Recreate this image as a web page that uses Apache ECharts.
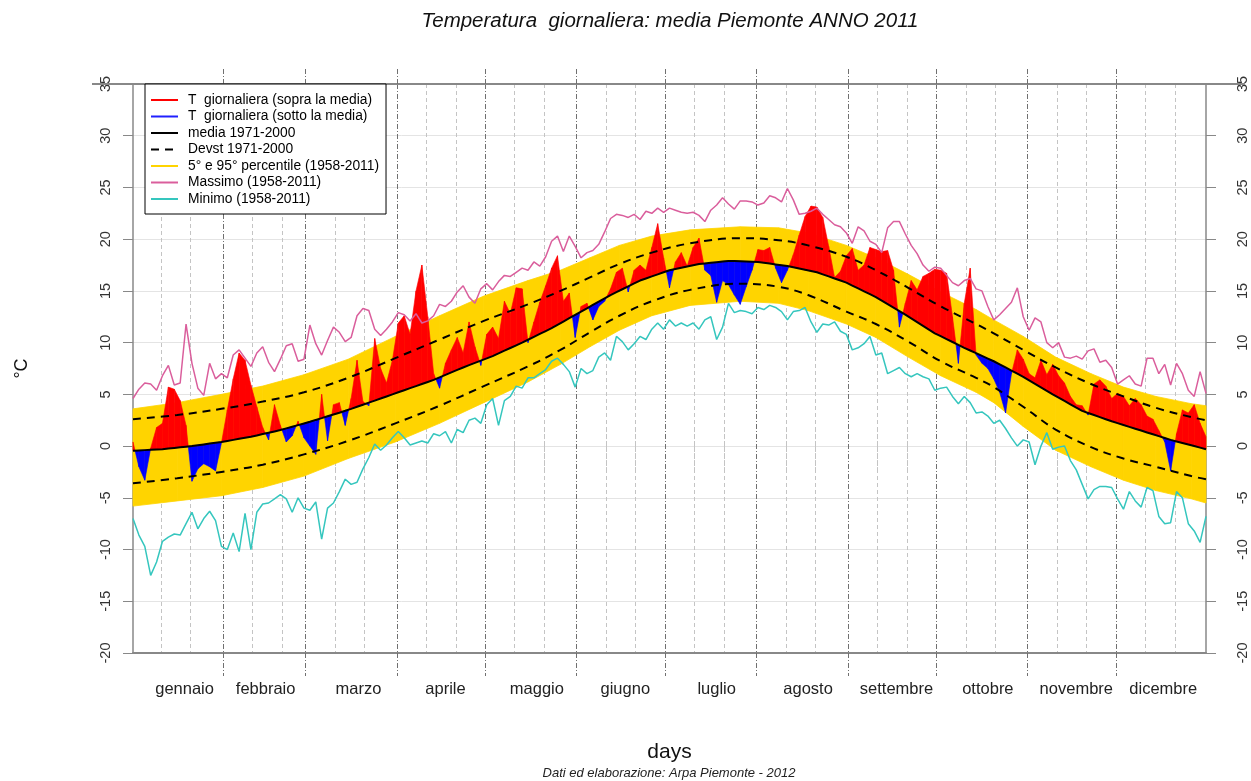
<!DOCTYPE html>
<html>
<head>
<meta charset="utf-8">
<script src="https://cdn.jsdelivr.net/npm/echarts@6/dist/echarts.min.js"></script>
<style>
html,body{margin:0;padding:0;background:#fff;}
#chart{width:1251px;height:781px;}
</style>
</head>
<body>
<div id="chart"></div>
<script>
// ---- data ----
// daily values sampled every second day: day 1, 3, 5, ... 365
const DAY_STEP = 2;
const tempDaily = [
 0.4,-2.0,-3.3,-0.2,1.8,2.2,5.7,5.5,4.4,2.0,
 -3.4,-2.2,-1.7,-2.0,-2.4,0.3,3.5,6.5,9.0,8.3,
 5.9,3.8,1.8,0.6,4.0,2.0,0.4,1.0,2.4,0.8,
 0.0,-0.8,5.0,0.5,4.0,4.2,2.0,4.6,8.3,4.3,
 3.9,10.4,7.5,6.1,8.3,11.9,12.6,10.8,15.0,17.5,
 12.5,7.0,5.6,8.0,9.3,10.5,9.0,12.0,9.6,7.8,
 10.8,11.5,10.4,14.0,12.8,15.3,15.2,10.0,12.0,13.9,
 15.5,17.2,18.4,14.0,14.8,10.5,13.5,13.8,12.2,13.5,
 14.0,15.2,16.8,17.2,14.9,17.0,17.5,17.0,19.2,21.5,
 18.2,15.3,17.8,18.7,17.4,19.2,20.1,17.0,16.5,13.9,
 16.0,15.6,14.6,13.7,15.4,17.0,19.0,18.9,19.2,17.2,
 15.8,17.0,18.5,20.4,22.2,23.2,23.1,22.1,19.3,16.3,
 16.9,18.4,19.1,17.0,17.5,19.2,19.0,18.8,18.9,17.0,
 11.5,13.8,16.0,15.1,16.4,16.7,17.1,17.0,16.7,12.5,
 8.0,13.8,17.2,8.8,8.0,7.5,6.5,5.2,3.2,7.0,
 9.3,8.4,7.0,6.6,8.3,6.9,7.9,6.8,6.1,4.8,
 4.0,3.9,3.0,6.0,6.4,5.8,4.6,5.1,4.8,3.9,
 4.6,4.0,2.9,2.6,1.5,0.4,-2.4,1.2,3.5,3.2,
 4.0,2.2,0.9
];
const media = [
 -0.45,-0.42,-0.39,-0.36,-0.33,-0.3,-0.24,-0.18,-0.12,-0.06,
 0.0,0.08,0.16,0.24,0.32,0.4,0.5,0.6,0.7,0.8,
 0.9,1.03,1.16,1.29,1.42,1.55,1.71,1.87,2.03,2.19,
 2.35,2.53,2.7,2.88,3.06,3.23,3.41,3.6,3.8,4.0,
 4.2,4.4,4.6,4.8,5.0,5.2,5.4,5.6,5.8,6.0,
 6.2,6.4,6.64,6.88,7.12,7.36,7.6,7.82,8.04,8.26,
 8.48,8.7,8.96,9.22,9.48,9.74,10.0,10.28,10.56,10.84,
 11.12,11.4,11.72,12.04,12.36,12.68,13.0,13.32,13.64,13.96,
 14.28,14.6,14.88,15.16,15.44,15.72,16.0,16.2,16.4,16.6,
 16.8,17.0,17.12,17.24,17.36,17.48,17.6,17.66,17.72,17.78,
 17.84,17.9,17.88,17.86,17.84,17.82,17.8,17.72,17.64,17.56,
 17.48,17.4,17.28,17.16,17.04,16.92,16.8,16.6,16.4,16.2,
 16.0,15.8,15.52,15.24,14.96,14.68,14.4,14.06,13.72,13.38,
 13.04,12.7,12.34,11.98,11.62,11.26,10.9,10.62,10.34,10.06,
 9.78,9.5,9.24,8.98,8.72,8.46,8.2,7.9,7.6,7.3,
 7.0,6.7,6.36,6.02,5.68,5.34,5.0,4.68,4.36,4.04,
 3.72,3.4,3.2,3.0,2.8,2.6,2.4,2.22,2.04,1.86,
 1.68,1.5,1.32,1.14,0.96,0.78,0.6,0.45,0.3,0.15,
 0.0,-0.15,-0.3
];
const massimo = [
 4.6,5.5,6.1,6.0,5.4,6.8,7.8,5.9,6.1,11.8,
 8.0,5.6,4.9,8.0,6.5,7.0,6.6,8.8,9.3,8.5,
 7.7,9.0,9.6,8.1,7.2,8.4,9.7,9.9,8.2,8.4,
 11.7,9.9,8.8,10.2,11.5,11.0,10.1,10.5,12.6,13.3,
 13.1,11.3,10.7,11.3,12.0,12.9,12.7,12.1,12.8,11.9,
 12.1,12.6,13.7,13.5,14.0,14.9,15.5,14.4,13.8,15.2,
 15.7,15.1,15.9,16.5,16.4,16.8,17.2,17.0,17.8,17.4,
 18.3,19.8,20.3,18.8,20.3,19.3,18.2,18.7,18.9,19.5,
 20.7,22.0,22.4,22.3,22.1,22.4,21.9,22.7,22.5,23.0,
 22.6,23.0,22.8,22.6,22.5,22.6,22.3,21.7,22.8,23.3,
 24.0,23.4,22.9,23.7,23.7,23.6,23.3,23.5,24.2,24.0,
 23.6,24.9,23.8,22.4,22.5,22.7,23.0,22.4,21.9,21.4,
 21.2,20.6,19.6,21.2,20.8,19.8,19.5,18.7,21.1,21.7,
 21.7,20.5,19.4,18.6,17.5,16.9,17.3,17.2,16.5,15.8,
 15.5,16.0,16.2,15.2,15.0,13.5,12.2,12.7,13.3,13.9,
 15.3,12.5,11.2,12.4,12.0,10.0,9.5,10.0,8.6,8.5,
 8.7,8.4,9.2,9.4,8.1,8.3,7.6,6.0,6.4,6.8,
 6.0,5.8,8.5,8.5,7.0,7.9,5.9,8.0,7.0,5.4,
 4.8,7.2,5.1
];
const minimo = [
 -7.0,-8.6,-9.7,-12.5,-11.2,-9.2,-8.8,-8.5,-8.6,-7.5,
 -6.4,-8.0,-7.0,-6.3,-7.2,-9.7,-10.0,-8.4,-10.2,-6.5,
 -10.0,-6.4,-5.6,-5.5,-5.1,-4.7,-5.1,-6.4,-5.0,-6.0,
 -6.2,-5.4,-9.0,-6.0,-5.5,-4.4,-3.2,-3.7,-3.5,-2.2,
 -1.1,0.2,-0.4,0.1,0.8,1.4,0.8,0.1,0.3,0.5,
 0.3,1.2,1.0,1.4,0.3,1.6,1.3,2.5,2.7,2.2,
 4.0,4.6,2.0,4.4,4.8,5.8,5.6,6.6,6.6,7.0,
 7.4,8.2,8.5,7.9,7.2,5.7,7.5,7.0,7.3,8.6,
 9.0,8.3,10.6,10.1,9.3,9.9,10.6,10.3,11.3,11.9,
 11.3,12.2,11.6,11.9,11.6,11.9,11.3,12.2,12.5,10.3,
 11.5,13.8,12.9,13.1,13.0,12.8,13.4,13.2,13.6,13.4,
 13.0,12.2,13.0,13.1,13.4,12.0,11.0,11.8,11.7,12.0,
 11.1,10.8,9.3,9.5,9.9,10.6,8.8,9.0,7.0,7.3,
 7.6,7.0,6.7,7.0,6.7,6.5,5.4,5.6,5.7,4.8,
 4.1,4.8,4.2,3.2,3.3,2.9,2.2,2.5,1.7,0.8,
 0.0,0.6,0.4,-1.8,0.0,1.3,-0.3,-0.1,0.0,-1.4,
 -2.3,-3.7,-5.1,-4.2,-3.9,-3.9,-4.0,-5.1,-6.1,-4.4,
 -5.3,-5.9,-4.0,-4.3,-6.8,-7.5,-7.4,-4.4,-5.0,-7.5,
 -8.2,-9.3,-6.8
];
// smooth climatological curves, read at these days
const bandDays = [1,16,31,45,59,74,90,105,120,135,146,156,166,177,190,207,220,230,243,253,264,275,287,293,303,314,326,337,348,360,365];
const p95   = [3.6,4.2,5.0,5.8,6.9,8.4,10.6,12.6,14.5,16.0,17.0,18.2,19.4,20.3,20.9,21.2,21.1,20.6,19.4,18.2,16.6,14.9,13.2,12.2,10.6,8.6,7.0,5.7,4.8,4.1,3.9];
const devUp = [2.6,3.0,3.6,4.3,5.2,6.6,8.5,10.3,12.1,13.7,15.0,16.3,17.6,18.7,19.6,20.1,19.9,19.4,18.3,17.0,15.3,13.5,11.8,10.9,9.3,7.6,6.0,4.8,3.7,2.8,2.5];
const devLo = [-3.6,-3.1,-2.5,-1.8,-0.8,0.5,2.2,3.9,5.8,7.7,9.3,11.0,12.6,14.0,15.1,15.7,15.4,14.6,13.0,11.8,10.1,8.2,6.6,5.7,3.8,1.6,-0.1,-1.2,-2.0,-2.9,-3.2];
const p05   = [-5.8,-5.3,-4.8,-4.0,-2.9,-1.2,0.4,2.2,4.2,6.2,7.9,9.6,11.2,12.6,13.6,14.0,13.8,13.1,11.8,10.5,8.6,6.8,5.2,4.2,1.9,-0.4,-2.0,-3.3,-4.3,-5.1,-5.5];

const monthNames = ['gennaio','febbraio','marzo','aprile','maggio','giugno','luglio','agosto','settembre','ottobre','novembre','dicembre'];
const monthLabelDays = [18.5,46,77.5,107,138,168,199,230,260,291,321,350.5];
const monthEdgeDays = [31.5,59.5,90.5,120.5,151.5,181.5,212.5,243.5,273.5,304.5,334.5];
const decadeDays = [10.5,20.5,41.5,51.5,69.5,79.5,100.5,110.5,130.5,140.5,161.5,171.5,191.5,201.5,222.5,232.5,253.5,263.5,283.5,293.5,314.5,324.5,344.5,354.5];

// ---- build ----
const days = tempDaily.map((_, i) => 1 + DAY_STEP * i);
const pair = (xs, ys) => ys.map((v, i) => [xs[i], v]);
const segRows = (xs, a, b) => xs.slice(0, -1).map((x, i) => [x, a[i], b[i], xs[i + 1], a[i + 1], b[i + 1]]);

const RED = '#FF0000', BLUE = '#0000FF', GOLD = '#FFD400';
const FONT = '"Liberation Sans", Arial, Helvetica, sans-serif';

// area between daily temperature and the mean: red above, blue below
function renderFill(params, api) {
  const x0 = api.value(0), t0 = api.value(1), m0 = api.value(2);
  const x1 = api.value(3), t1 = api.value(4), m1 = api.value(5);
  const d0 = t0 - m0, d1 = t1 - m1;
  const P = (x, y) => api.coord([x, y]);
  const children = [];
  const poly = (pts, up) => children.push({
    type: 'polygon', shape: { points: pts },
    style: { fill: up ? RED : BLUE, stroke: up ? RED : BLUE, lineWidth: 0.6 }
  });
  if (d0 * d1 < 0) {
    const f = d0 / (d0 - d1);
    const xc = x0 + f * (x1 - x0), yc = m0 + f * (m1 - m0);
    poly([P(x0, t0), P(xc, yc), P(x0, m0)], d0 > 0);
    poly([P(xc, yc), P(x1, t1), P(x1, m1)], d1 > 0);
  } else if (d0 !== 0 || d1 !== 0) {
    poly([P(x0, t0), P(x1, t1), P(x1, m1), P(x0, m0)], d0 + d1 > 0);
  }
  return { type: 'group', children };
}
// percentile band between p05 and p95
function renderBand(params, api) {
  const x0 = api.value(0), lo0 = api.value(1), hi0 = api.value(2);
  const x1 = api.value(3), lo1 = api.value(4), hi1 = api.value(5);
  return {
    type: 'polygon',
    shape: { points: [api.coord([x0, hi0]), api.coord([x1, hi1]), api.coord([x1, lo1]), api.coord([x0, lo0])] },
    style: { fill: GOLD, stroke: GOLD, lineWidth: 0.8 }
  };
}

const common = { type: 'line', symbol: 'none', silent: true, emphasis: { disabled: true }, animation: false };
const monthLine = { color: '#707070', width: 1, type: [5, 2, 1, 2] };
const decadeLine = { color: '#c4c4c4', width: 1, type: [4, 3] };
const xBase = { type: 'value', min: 1, max: 365, axisLabel: { show: false }, splitLine: { show: false }, axisLine: { show: false } };

const chart = echarts.init(document.getElementById('chart'), null, { renderer: 'canvas' });
chart.setOption({
  animation: false,
  backgroundColor: '#fff',
  textStyle: { fontFamily: FONT },
  title: [
    { text: 'Temperatura  giornaliera: media Piemonte ANNO 2011', left: 670, top: 11, textAlign: 'center', padding: 0,
      textStyle: { fontFamily: FONT, fontStyle: 'italic', fontWeight: 'normal', fontSize: 20.5, color: '#111' } },
    { text: 'Dati ed elaborazione: Arpa Piemonte - 2012', left: 669, top: 767, textAlign: 'center', padding: 0,
      textStyle: { fontFamily: FONT, fontStyle: 'italic', fontWeight: 'normal', fontSize: 13, color: '#222' } }
  ],
  grid: { left: 133, top: 84, width: 1073, height: 569, containLabel: false, outerBoundsMode: 'none' },
  legend: {
    orient: 'vertical', left: 145, top: 84, itemWidth: 27, itemHeight: 12, itemGap: 2.5,
    padding: [9, 7, 8, 5], borderColor: '#000', borderWidth: 1, borderRadius: 0, backgroundColor: '#fff',
    selectedMode: false,
    itemStyle: { opacity: 0 },
    textStyle: { fontFamily: FONT, fontSize: 13.8, lineHeight: 12, color: '#000', padding: [0, 0, 0, 5] },
    data: ['T  giornaliera (sopra la media)', 'T  giornaliera (sotto la media)', 'media 1971-2000', 'Devst 1971-2000',
           '5° e 95° percentile (1958-2011)', 'Massimo (1958-2011)', 'Minimo (1958-2011)']
  },
  xAxis: [
    Object.assign({}, xBase, {
      position: 'bottom',
      axisLine: { show: true, onZero: false, lineStyle: { color: '#888', width: 2 } },
      axisTick: { show: true, customValues: monthEdgeDays, length: 23, lineStyle: monthLine },
      axisLabel: { show: true, customValues: monthLabelDays, margin: 28, fontSize: 16.5, color: '#222', fontFamily: FONT,
        formatter: v => monthNames[monthLabelDays.indexOf(v)] || '' },
      splitLine: { show: true, lineStyle: monthLine },
      name: 'days', nameLocation: 'middle', nameGap: 89,
      nameTextStyle: { fontSize: 21, color: '#111', fontFamily: FONT }
    }),
    Object.assign({}, xBase, {
      position: 'bottom',
      axisTick: { show: true, customValues: decadeDays, length: 23, lineStyle: decadeLine },
      splitLine: { show: true, lineStyle: decadeLine }
    }),
    Object.assign({}, xBase, {
      position: 'top',
      axisLine: { show: true, onZero: false, lineStyle: { color: '#888', width: 2 } },
      axisTick: { show: true, customValues: monthEdgeDays, length: 17, lineStyle: monthLine }
    }),
    Object.assign({}, xBase, {
      position: 'top',
      axisTick: { show: true, customValues: decadeDays, length: 17, lineStyle: decadeLine }
    })
  ],
  yAxis: [
    { type: 'value', position: 'left', min: -20, max: 35, interval: 5,
      axisLine: { show: true, onZero: false, lineStyle: { color: '#888', width: 1.5 } },
      axisTick: { show: true, length: 10, lineStyle: { color: '#888', width: 1 } },
      axisLabel: { rotate: 90, margin: 20, fontSize: 14.5, color: '#333', fontFamily: FONT },
      splitLine: { show: true, lineStyle: { color: '#e4e4e4', width: 1 } },
      name: '°C', nameLocation: 'middle', nameGap: 102, nameRotate: 90,
      nameTextStyle: { fontSize: 18, color: '#111', fontFamily: FONT } },
    { type: 'value', position: 'right', min: -20, max: 35, interval: 5,
      axisLine: { show: true, onZero: false, lineStyle: { color: '#888', width: 1.5 } },
      axisTick: { show: true, length: 10, lineStyle: { color: '#888', width: 1 } },
      axisLabel: { rotate: 90, margin: 29, fontSize: 14.5, color: '#333', fontFamily: FONT },
      splitLine: { show: false } }
  ],
  series: [
    { type: 'custom', name: 'band', renderItem: renderBand, data: segRows(bandDays, p05, p95),
      encode: { x: [0, 3], y: [1, 2, 4, 5] }, silent: true, animation: false, z: 1 },
    { type: 'custom', name: 'fill', renderItem: renderFill, data: segRows(days, tempDaily, media),
      encode: { x: [0, 3], y: [1, 2, 4, 5] }, silent: true, animation: false, z: 2 },
    Object.assign({}, common, { name: 'Devst 1971-2000', data: pair(bandDays, devUp), smooth: 0.4, color: '#000',
      lineStyle: { color: '#000', width: 2, type: [8, 6] }, z: 3 }),
    Object.assign({}, common, { name: 'Devst 1971-2000', data: pair(bandDays, devLo), smooth: 0.4, color: '#000',
      lineStyle: { color: '#000', width: 2, type: [8, 6] }, z: 3 }),
    Object.assign({}, common, { name: 'media 1971-2000', data: pair(days, media), color: '#000',
      lineStyle: { color: '#000', width: 2 }, z: 4 }),
    Object.assign({}, common, { name: 'Massimo (1958-2011)', data: pair(days, massimo), color: '#DA5E9C',
      lineStyle: { color: '#DA5E9C', width: 1.5 }, z: 5 }),
    Object.assign({}, common, { name: 'Minimo (1958-2011)', data: pair(days, minimo), color: '#35C6BE',
      lineStyle: { color: '#35C6BE', width: 1.5 }, z: 5 }),
    // legend-only entries
    Object.assign({}, common, { name: 'T  giornaliera (sopra la media)', data: [], color: RED, lineStyle: { color: RED, width: 2 } }),
    Object.assign({}, common, { name: 'T  giornaliera (sotto la media)', data: [], color: '#2020FF', lineStyle: { color: '#2020FF', width: 2 } }),
    Object.assign({}, common, { name: '5° e 95° percentile (1958-2011)', data: [], color: GOLD, lineStyle: { color: GOLD, width: 5 } })
  ]
});

// the top frame line runs a little past both vertical axes, as in the original plot
const yTop = chart.convertToPixel({ yAxisIndex: 0 }, 35);
const xLeft = chart.convertToPixel({ xAxisIndex: 0 }, 1);
const xRight = chart.convertToPixel({ xAxisIndex: 0 }, 365);
chart.setOption({
  graphic: [
    { type: 'line', silent: true, z: 10, shape: { x1: xLeft - 41, y1: yTop, x2: xLeft, y2: yTop }, style: { stroke: '#888', lineWidth: 2 } },
    { type: 'line', silent: true, z: 10, shape: { x1: xRight, y1: yTop, x2: xRight + 39, y2: yTop }, style: { stroke: '#888', lineWidth: 2 } }
  ]
});
</script>
</body>
</html>
